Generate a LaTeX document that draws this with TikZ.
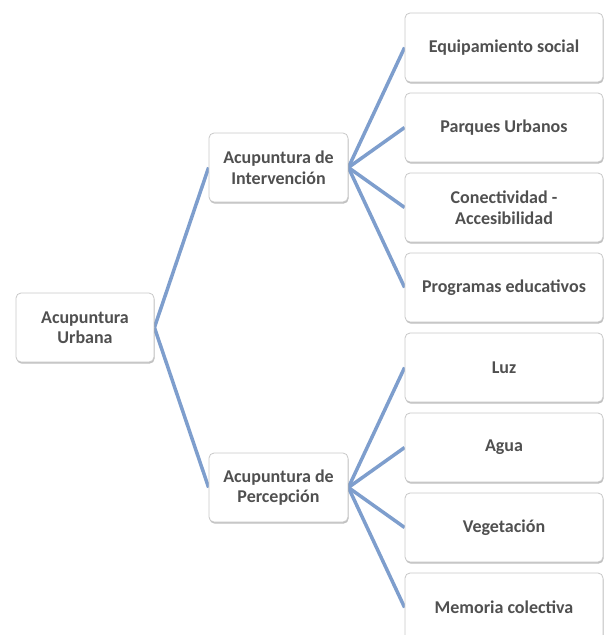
\documentclass[tikz,border=0pt]{standalone}
\usepackage{fontspec}
\setmainfont{Carlito}
\usetikzlibrary{backgrounds,shadows}
\definecolor{linkblue}{RGB}{126,158,205}
\definecolor{boxline}{RGB}{200,200,200}
\definecolor{txt}{RGB}{80,80,80}
\tikzset{
  box/.style={draw=boxline, line width=0.8pt, fill=white, rounded corners=5pt,
    align=center, inner sep=0pt, text=txt,
    font=\fontsize{18}{20.5}\selectfont\bfseries,
    drop shadow={shadow xshift=0.6pt, shadow yshift=-1.6pt, opacity=0.25, fill=black}},
  rootbox/.style={box, minimum width=138pt, minimum height=69pt},
  midbox/.style={box, minimum width=139pt, minimum height=69pt},
  leafbox/.style={box, minimum width=198pt, minimum height=69pt},
  link/.style={draw=linkblue, line width=3.5pt}
}
\begin{document}
\begin{tikzpicture}[x=1pt,y=-1pt]
\useasboundingbox (0,0) rectangle (604,635);
\clip (0,0) rectangle (604,635);
\node[rootbox] (root) at (85,327.5) {Acupuntura\\Urbana};
\node[midbox] (inter) at (278.5,167.5) {Acupuntura de\\Intervención};
\node[midbox] (perc) at (278.5,487.5) {Acupuntura de\\Percepción};
\node[leafbox] (l1) at (504,47.5) {Equipamiento social};
\node[leafbox] (l2) at (504,127.5) {Parques Urbanos};
\node[leafbox] (l3) at (504,207.5) {Conectividad -\\Accesibilidad};
\node[leafbox] (l4) at (504,287.5) {Programas educativos};
\node[leafbox] (l5) at (504,367.5) {Luz};
\node[leafbox] (l6) at (504,447.5) {Agua};
\node[leafbox] (l7) at (504,527.5) {Vegetación};
\node[leafbox] (l8) at (504,607.5) {Memoria colectiva};
\begin{scope}[on background layer]
\draw[link] (root.east) -- (inter.west);
\draw[link] (root.east) -- (perc.west);
\foreach \n in {l1,l2,l3,l4} \draw[link] (inter.east) -- (\n.west);
\foreach \n in {l5,l6,l7,l8} \draw[link] (perc.east) -- (\n.west);
\end{scope}
\end{tikzpicture}
\end{document}
